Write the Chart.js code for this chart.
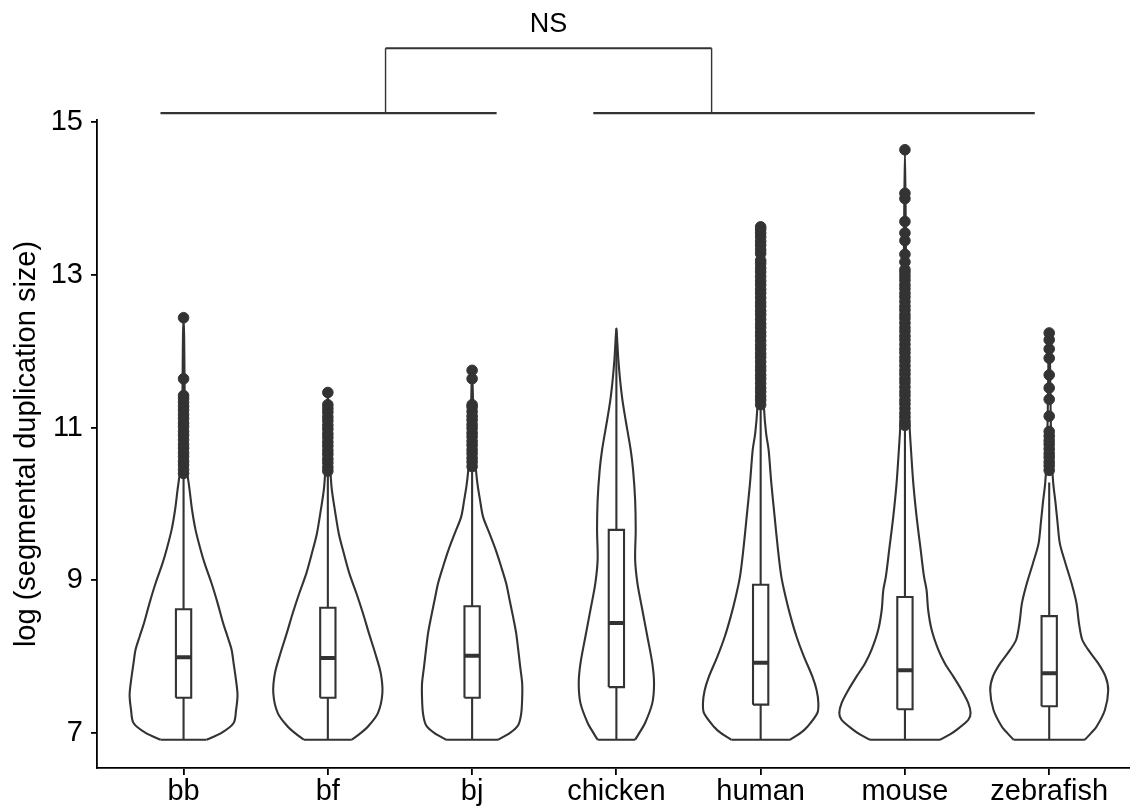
<!DOCTYPE html>
<html>
<head>
<meta charset="utf-8">
<title>Segmental duplication size</title>
<script src="https://cdn.jsdelivr.net/npm/chart.js@4.4.0/dist/chart.umd.min.js"></script>
<style>
  html, body { margin: 0; padding: 0; background: #fff; }
  canvas { display: block; }
</style>
</head>
<body>
<canvas id="violinChart" width="1130" height="812"></canvas>
<script>
// species on the x axis, log-size ticks on the y axis
const species = ['bb', 'bf', 'bj', 'chicken', 'human', 'mouse', 'zebrafish'];
const yTicks = [7, 9, 11, 13, 15];

// boxplot summaries
const lowerWhisker = [6.91, 6.91, 6.91, 6.91, 6.91, 6.91, 6.91];
const q1 = [7.46, 7.46, 7.46, 7.60, 7.37, 7.31, 7.35];
const medians = [7.99, 7.98, 8.01, 8.44, 7.92, 7.82, 7.78];
const q3 = [8.62, 8.64, 8.66, 9.66, 8.94, 8.78, 8.53];
const upperWhisker = [10.36, 10.40, 10.42, 12.30, 11.25, 10.96, 10.28];

// violin outlines: [log size, half width in category units]
const densityBb = [[6.91,0.159],[7.00,0.263],[7.13,0.347],[7.30,0.364],[7.50,0.374],[7.74,0.360],[7.91,0.347],[8.09,0.333],[8.26,0.305],[8.44,0.274],[8.70,0.236],[8.96,0.194],[9.22,0.146],[9.40,0.118],[9.66,0.083],[9.92,0.059],[10.18,0.042],[10.44,0.024],[10.71,0.014],[11.20,0.009],[11.80,0.006],[12.20,0.004],[12.44,0]];
const densityBf = [[6.91,0.166],[7.00,0.229],[7.08,0.277],[7.26,0.347],[7.52,0.378],[7.78,0.367],[8.04,0.329],[8.31,0.284],[8.57,0.243],[8.83,0.198],[9.09,0.149],[9.35,0.111],[9.61,0.076],[9.88,0.052],[10.18,0.028],[10.40,0.019],[10.80,0.010],[11.20,0.005],[11.46,0]];
const densityBj = [[6.91,0.180],[7.00,0.263],[7.10,0.319],[7.25,0.340],[7.45,0.347],[7.65,0.347],[7.87,0.333],[8.10,0.319],[8.31,0.305],[8.52,0.284],[8.74,0.260],[8.96,0.236],[9.18,0.201],[9.40,0.163],[9.61,0.121],[9.83,0.076],[10.05,0.055],[10.25,0.038],[10.42,0.028],[10.80,0.014],[11.30,0.007],[11.75,0]];
const densityChicken = [[6.91,0.130],[7.00,0.159],[7.13,0.199],[7.39,0.249],[7.65,0.261],[7.91,0.249],[8.26,0.215],[8.61,0.180],[8.96,0.146],[9.27,0.130],[9.66,0.134],[10.05,0.130],[10.44,0.116],[10.71,0.099],[11.10,0.064],[11.36,0.042],[11.62,0.026],[11.88,0.014],[12.10,0.007],[12.30,0]];
const densityHuman = [[6.91,0.203],[7.00,0.277],[7.08,0.324],[7.26,0.393],[7.39,0.400],[7.56,0.388],[7.74,0.358],[8.00,0.300],[8.26,0.249],[8.52,0.208],[8.78,0.173],[9.05,0.143],[9.40,0.120],[9.83,0.097],[10.27,0.074],[10.71,0.055],[10.92,0.038],[11.23,0.024],[11.80,0.014],[12.60,0.008],[13.30,0.004],[13.63,0]];
const densityMouse = [[6.91,0.243],[6.98,0.312],[7.04,0.358],[7.17,0.439],[7.26,0.455],[7.39,0.439],[7.56,0.393],[7.74,0.335],[7.91,0.277],[8.09,0.231],[8.35,0.185],[8.61,0.161],[8.87,0.150],[9.05,0.132],[9.40,0.109],[9.83,0.081],[10.27,0.058],[10.71,0.042],[10.92,0.035],[11.30,0.024],[12.00,0.014],[13.00,0.008],[13.80,0.005],[14.64,0]];
const densityZebrafish = [[6.91,0.247],[7.00,0.291],[7.08,0.328],[7.30,0.386],[7.56,0.409],[7.74,0.390],[7.91,0.340],[8.09,0.270],[8.22,0.229],[8.44,0.206],[8.70,0.189],[8.96,0.155],[9.22,0.113],[9.48,0.074],[9.75,0.058],[10.01,0.044],[10.27,0.028],[10.60,0.017],[11.20,0.010],[11.80,0.006],[12.24,0]];

// points beyond the upper whisker
const outliersBb = [10.40, 10.45, 10.51, 10.56, 10.62, 10.67, 10.73, 10.78, 10.84, 10.90, 10.95, 11.01, 11.06, 11.12, 11.17, 11.23, 11.28, 11.33, 11.38, 11.42, 11.64, 12.44];
const outliersBf = [10.43, 10.48, 10.54, 10.59, 10.65, 10.70, 10.76, 10.81, 10.87, 10.92, 10.98, 11.03, 11.09, 11.14, 11.20, 11.25, 11.30, 11.46];
const outliersBj = [10.49, 10.55, 10.60, 10.66, 10.71, 10.77, 10.82, 10.88, 10.93, 10.99, 11.04, 11.10, 11.15, 11.21, 11.27, 11.30, 11.64, 11.75];
const outliersChicken = [];
const outliersHuman = [11.30, 11.36, 11.41, 11.47, 11.52, 11.58, 11.64, 11.69, 11.75, 11.80, 11.86, 11.92, 11.97, 12.03, 12.08, 12.14, 12.20, 12.25, 12.31, 12.36, 12.42, 12.48, 12.53, 12.59, 12.64, 12.70, 12.76, 12.81, 12.87, 12.92, 12.98, 13.04, 13.09, 13.15, 13.19, 13.28, 13.33, 13.39, 13.44, 13.50, 13.55, 13.60, 13.63];
const outliersMouse = [11.03, 11.08, 11.14, 11.19, 11.25, 11.31, 11.36, 11.42, 11.47, 11.53, 11.59, 11.64, 11.70, 11.75, 11.81, 11.87, 11.92, 11.98, 12.03, 12.09, 12.15, 12.20, 12.26, 12.31, 12.37, 12.43, 12.48, 12.54, 12.59, 12.65, 12.71, 12.76, 12.82, 12.87, 12.93, 12.98, 13.03, 13.07, 13.17, 13.27, 13.45, 13.55, 13.70, 14.00, 14.07, 14.64];
const outliersZebrafish = [10.44, 10.50, 10.55, 10.61, 10.66, 10.72, 10.78, 10.83, 10.89, 10.95, 11.15, 11.37, 11.52, 11.69, 11.91, 12.03, 12.15, 12.24];

// comparison bracket between the two groups
const bracketSpans = [[0.84, 3.17], [3.84, 6.90]];
const bracketLegs = [2.40, 4.66];
const bracketBase = 15.12;
const bracketTop = 15.97;
const bracketLabel = 'NS';

const densities = [densityBb, densityBf, densityBj, densityChicken, densityHuman, densityMouse, densityZebrafish];
const outliers = [outliersBb, outliersBf, outliersBj, outliersChicken, outliersHuman, outliersMouse, outliersZebrafish];

const INK = '#333333';
const BOX_HALF = 0.053;
const FONT = '"Liberation Sans", Arial, Helvetica, sans-serif';

Chart.defaults.font.family = FONT;
Chart.defaults.color = '#000';

const datasets = [];

// violin sides (open curve: up the left side, down the right side)
densities.forEach((dens, i) => {
  const c = i + 1;
  const left = dens.map(([v, w]) => ({ x: c - w, y: v }));
  const right = dens.slice(0, -1).reverse().map(([v, w]) => ({ x: c + w, y: v }));
  datasets.push({
    type: 'line',
    label: species[i] + ' violin',
    data: left.concat(right),
    borderColor: INK,
    borderWidth: 2.1,
    pointRadius: 0,
    tension: 0.3,
    fill: false,
    order: 5
  });
});

// flat trimmed bottoms of the violins
const bottoms = [];
densities.forEach((dens, i) => {
  const c = i + 1;
  const [v, w] = dens[0];
  bottoms.push({ x: c - w, y: v }, { x: c + w, y: v }, { x: c, y: null });
});
datasets.push({
  type: 'line', label: 'violin base', data: bottoms,
  borderColor: INK, borderWidth: 2.1, pointRadius: 0, tension: 0, spanGaps: false, order: 5
});

// whiskers, drawn below and above each box
const whiskers = [];
species.forEach((s, i) => {
  const c = i + 1;
  whiskers.push({ x: c, y: lowerWhisker[i] }, { x: c, y: q1[i] }, { x: c, y: null });
  whiskers.push({ x: c, y: q3[i] }, { x: c, y: upperWhisker[i] }, { x: c, y: null });
});
datasets.push({
  type: 'line', label: 'whiskers', data: whiskers,
  borderColor: INK, borderWidth: 2.1, pointRadius: 0, tension: 0, spanGaps: false, order: 4
});

// white-filled boxes from q1 to q3
species.forEach((s, i) => {
  const c = i + 1;
  datasets.push({
    type: 'line',
    label: s + ' box',
    data: [
      { x: c - BOX_HALF, y: q1[i] }, { x: c - BOX_HALF, y: q3[i] },
      { x: c + BOX_HALF, y: q3[i] }, { x: c + BOX_HALF, y: q1[i] },
      { x: c - BOX_HALF, y: q1[i] }
    ],
    borderColor: INK,
    borderWidth: 2.1,
    backgroundColor: '#ffffff',
    fill: 'shape',
    pointRadius: 0,
    tension: 0,
    borderJoinStyle: 'miter',
    order: 3
  });
});

// median bars
const medianBars = [];
species.forEach((s, i) => {
  const c = i + 1;
  medianBars.push({ x: c - BOX_HALF, y: medians[i] }, { x: c + BOX_HALF, y: medians[i] }, { x: c, y: null });
});
datasets.push({
  type: 'line', label: 'medians', data: medianBars,
  borderColor: INK, borderWidth: 4, pointRadius: 0, tension: 0, spanGaps: false, order: 2
});

// outlier points
const outlierPoints = [];
outliers.forEach((list, i) => list.forEach(v => outlierPoints.push({ x: i + 1, y: v })));
datasets.push({
  type: 'scatter', label: 'outliers', data: outlierPoints,
  pointRadius: 5.3, pointBorderWidth: 1, pointBackgroundColor: INK, pointBorderColor: INK,
  showLine: false, order: 1
});

// significance bracket and its label, placed with the chart scales
const bracketPlugin = {
  id: 'bracket',
  afterDraw(chart) {
    const { ctx, scales: { x, y } } = chart;
    const yBase = y.getPixelForValue(bracketBase);
    const yTop = y.getPixelForValue(bracketTop);
    ctx.save();
    ctx.strokeStyle = INK;
    ctx.lineCap = 'butt';
    ctx.lineWidth = 2.2;
    bracketSpans.forEach(([a, b]) => {
      ctx.beginPath();
      ctx.moveTo(x.getPixelForValue(a), yBase);
      ctx.lineTo(x.getPixelForValue(b), yBase);
      ctx.stroke();
    });
    const xl = x.getPixelForValue(bracketLegs[0]);
    const xr = x.getPixelForValue(bracketLegs[1]);
    ctx.beginPath();
    ctx.moveTo(xl, yTop);
    ctx.lineTo(xr, yTop);
    ctx.stroke();
    ctx.lineWidth = 1.4;
    ctx.beginPath();
    ctx.moveTo(xl, yBase);
    ctx.lineTo(xl, yTop);
    ctx.moveTo(xr, yBase);
    ctx.lineTo(xr, yTop);
    ctx.stroke();
    ctx.fillStyle = '#000';
    ctx.font = '27px ' + FONT;
    ctx.textAlign = 'center';
    ctx.textBaseline = 'alphabetic';
    ctx.fillText(bracketLabel, (xl + xr) / 2, yTop - 16);
    ctx.restore();
  }
};

new Chart(document.getElementById('violinChart'), {
  type: 'scatter',
  data: { datasets },
  options: {
    responsive: false,
    animation: false,
    devicePixelRatio: 1,
    events: [],
    layout: { autoPadding: false, padding: { top: 120, left: 0, right: 0, bottom: 0 } },
    plugins: { legend: { display: false }, tooltip: { enabled: false } },
    scales: {
      x: {
        type: 'linear',
        min: 0.4,
        max: 7.56,
        afterBuildTicks: s => { s.ticks = species.map((_, i) => ({ value: i + 1 })); },
        afterFit: s => { s.height = 44; s.paddingLeft = 0; s.paddingRight = 0; },
        ticks: {
          autoSkip: false,
          maxRotation: 0,
          padding: 0,
          color: '#000',
          font: { size: 29 },
          callback: v => species[v - 1]
        },
        grid: { display: true, drawOnChartArea: false, drawTicks: true, tickLength: 7, color: '#000', lineWidth: 1.8 },
        border: { display: true, color: '#000', width: 1.8 }
      },
      y: {
        type: 'linear',
        min: 6.54,
        max: 15.03,
        afterBuildTicks: s => { s.ticks = yTicks.map(v => ({ value: v })); },
        afterFit: s => { s.width = 97; },
        ticks: { padding: 8, color: '#000', font: { size: 29 } },
        grid: { display: true, drawOnChartArea: false, drawTicks: true, tickLength: 6, color: '#000', lineWidth: 1.8 },
        border: { display: true, color: '#000', width: 1.8 },
        title: {
          display: true,
          text: 'log (segmental duplication size)',
          color: '#000',
          font: { size: 29 },
          padding: { top: 10, bottom: 0 }
        }
      }
    }
  },
  plugins: [bracketPlugin]
});
</script>
</body>
</html>
